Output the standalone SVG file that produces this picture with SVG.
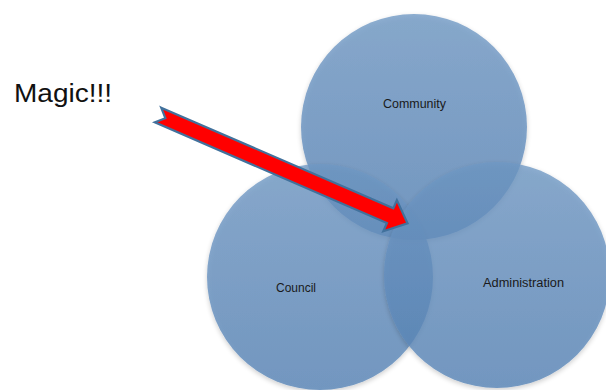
<svg xmlns="http://www.w3.org/2000/svg" width="606" height="390" viewBox="0 0 606 390">
<style>
.circ{fill:url(#cg);fill-opacity:0.78;filter:url(#sh)}
.lbl{font-family:"Liberation Sans","Open Sans",sans-serif;font-size:12.5px;fill:#1a1a1a}
.magic{font-family:"Liberation Sans","Open Sans",sans-serif;font-size:26.5px;fill:#111}
.arrow{fill:#ff0000;stroke:#41719c;stroke-width:2.2;stroke-linejoin:miter}
</style>
<defs>
<linearGradient id="cg" x1="0" y1="0" x2="0" y2="1">
<stop offset="0" stop-color="#6f98c4"/>
<stop offset="1" stop-color="#5683b6"/>
</linearGradient>
<filter id="sh" x="-10%" y="-10%" width="120%" height="125%">
<feGaussianBlur in="SourceAlpha" stdDeviation="2.5"/>
<feOffset dx="0" dy="2" result="b"/>
<feComponentTransfer><feFuncA type="linear" slope="0.25"/></feComponentTransfer>
<feMerge><feMergeNode/><feMergeNode in="SourceGraphic"/></feMerge>
</filter>
</defs>
<rect width="606" height="390" fill="#ffffff"/>
<g id="community"><circle class="circ" cx="414" cy="127" r="113"/></g>
<g id="council"><circle class="circ" cx="320" cy="277" r="113"/></g>
<g id="administration"><circle class="circ" cx="497" cy="275" r="113"/></g>
<g id="connectors">
<polygon class="arrow" transform="translate(158,115) rotate(23.45)" points="0,-8 253,-8 253,-17 272,0 253,17 253,8 0,8 8,0"/>
</g>
<g id="labels">
<text class="lbl" x="383" y="108" textLength="63" lengthAdjust="spacingAndGlyphs">Community</text>
<text class="lbl" x="276" y="292" textLength="40" lengthAdjust="spacingAndGlyphs">Council</text>
<text class="lbl" x="483" y="287" textLength="81" lengthAdjust="spacingAndGlyphs">Administration</text>
<text class="magic" x="14" y="102" textLength="98" lengthAdjust="spacingAndGlyphs">Magic!!!</text>
</g>
</svg>
